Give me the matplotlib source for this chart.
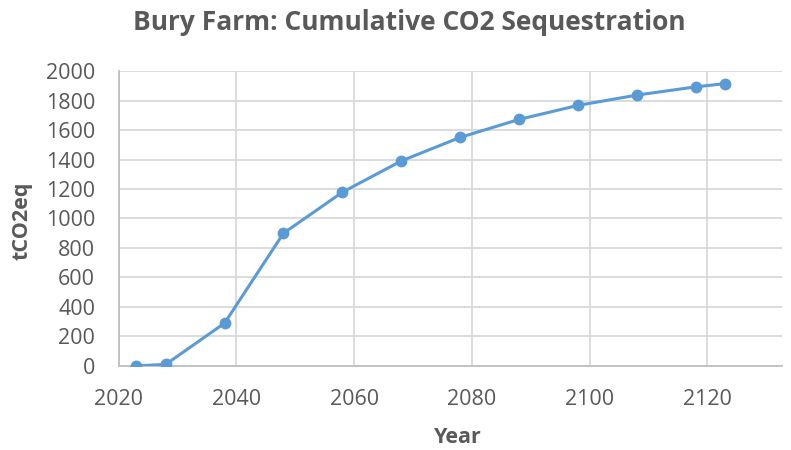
import matplotlib
matplotlib.use("Agg")
import matplotlib.pyplot as plt

# data
years = [2023, 2028, 2038, 2048, 2058, 2068, 2078, 2088, 2098, 2108, 2118, 2123]
co2 = [0, 10, 290, 900, 1178, 1390, 1550, 1672, 1767, 1837, 1893, 1915]
xticks = [2020, 2040, 2060, 2080, 2100, 2120]
yticks = list(range(0, 2001, 200))

plt.rcParams['font.family'] = ['Open Sans', 'DejaVu Sans']
text_col = '#595959'
grid_col = '#D9D9D9'

fig = plt.figure(figsize=(7.91, 4.5), dpi=100)
ax = fig.add_axes([0.150, 0.187, 0.838, 0.655])

ax.plot(years, co2, color='#5B9BD5', linewidth=2.2, marker='o', markersize=7.5, zorder=3)

ax.set_xlim(2020, 2132.6)
ax.set_ylim(0, 2000)
ax.set_xticks(xticks)
ax.set_yticks(yticks)
ax.grid(True, color=grid_col, linewidth=1.3)
ax.set_axisbelow(True)
for s in ['top', 'right']:
    ax.spines[s].set_visible(False)
for s in ['left', 'bottom']:
    ax.spines[s].set_color('#BFBFBF')
    ax.spines[s].set_linewidth(1.3)
ax.tick_params(length=0, labelsize=15.5, colors=text_col)
ax.tick_params(axis='y', pad=17)
ax.tick_params(axis='x', pad=17)

fig.text(0.518, 0.951, 'Bury Farm: Cumulative CO2 Sequestration', ha='center', va='center',
         fontsize=19, fontweight='bold', color=text_col)
fig.text(0.028, 0.51, 'tCO2eq', rotation=90, ha='center', va='center',
         fontsize=15.5, fontweight='bold', color=text_col)
fig.text(0.579, 0.027, 'Year', ha='center', va='center',
         fontsize=15.5, fontweight='bold', color=text_col)

fig.savefig('out.png', dpi=100)
